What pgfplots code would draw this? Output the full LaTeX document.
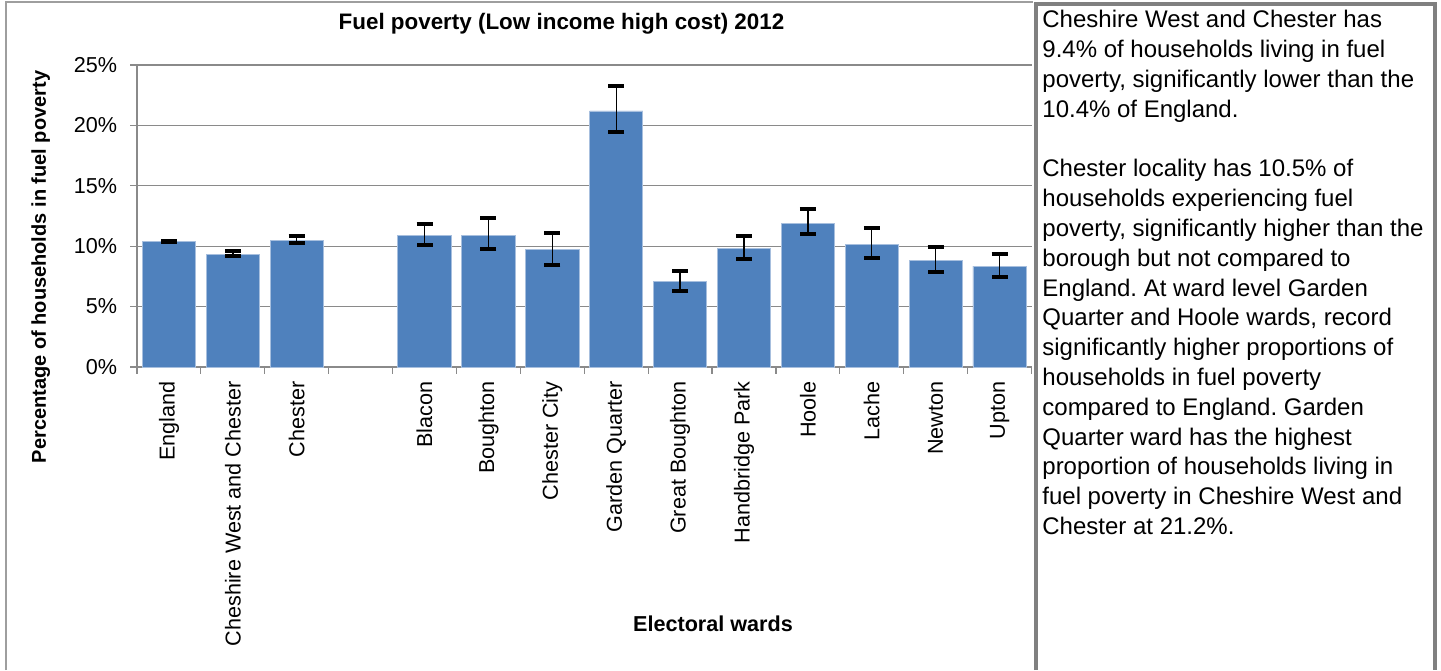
\documentclass[border=0pt]{standalone}
\usepackage{fontspec}
\setmainfont{Liberation Sans}
\usepackage{pgfplots}
\pgfplotsset{compat=1.18}
\usepackage{pgfplotstable}
\frenchspacing
\definecolor{barblue}{HTML}{4F81BD}
\definecolor{baredge}{HTML}{A7BFDE}
\definecolor{gridgrey}{HTML}{8A8A8A}
\definecolor{framegrey}{HTML}{808080}
\definecolor{chartframe}{HTML}{9E9E9E}

\pgfplotstableread{
x y ep em
0 10.40 0.05 0.05
1 9.35 0.25 0.17
2 10.50 0.38 0.27
4 10.90 0.90 0.76
5 10.90 1.40 1.17
6 9.75 1.38 1.27
7 21.20 2.10 1.78
8 7.05 0.93 0.72
9 9.80 1.08 0.90
10 11.90 1.22 0.93
11 10.15 1.32 1.09
12 8.85 1.12 0.95
13 8.35 1.04 0.86
}\fueldata

\begin{document}
\frenchspacing
\begin{tikzpicture}
\path[use as bounding box] (0,0) rectangle (720.5pt,335pt);
% frames
\draw[chartframe, line width=1pt] (2.75pt,0pt) -- (2.75pt,333.75pt) -- (516.5pt,333.75pt);
\draw[framegrey, line width=2pt] (518pt,0pt) -- (518pt,333pt) -- (717.25pt,333pt) -- (717.25pt,0pt);
\begin{axis}[
  at={(68.5pt,151.5pt)}, anchor=south west,
  scale only axis, width=447.25pt, height=151pt,
  xmin=-0.5, xmax=13.5, ymin=0, ymax=25,
  axis x line*=bottom, axis y line*=left,
  axis line style={gridgrey, line width=0.6pt},
  tick align=outside,
  major tick length=3.25pt,
  tick style={gridgrey, line width=0.6pt},
  xtick={-0.5,0.5,...,13.5},
  xticklabels={},
  extra x ticks={0,1,2,4,5,6,7,8,9,10,11,12,13},
  extra x tick labels={England,Cheshire West and Chester,Chester,Blacon,Boughton,Chester City,Garden Quarter,Great Boughton,Handbridge Park,Hoole,Lache,Newton,Upton},
  extra x tick style={major tick length=0pt, tick style={draw=none},
    xticklabel style={yshift=-7pt, rotate=90, anchor=east, inner sep=0pt, font=\fontsize{10.8}{12}\selectfont}},
  ytick={0,5,10,15,20,25},
  yticklabel={\pgfmathprintnumber{\tick}\%},
  yticklabel style={xshift=-6.5pt, anchor=east, inner sep=0pt, font=\fontsize{10.8}{12}\selectfont},
  /pgf/number format/assume math mode=true,
  ymajorgrids,
  grid style={gridgrey, line width=0.6pt},
  clip=false,
]
\addplot[ybar, bar width=0.834, fill=barblue, draw=baredge, line width=0.4pt,
  error bars/.cd, y dir=both, y explicit,
  error bar style={black, line width=0.7pt},
  error mark options={rotate=90, black, line width=2pt, mark size=4pt}]
  table[x=x, y=y, y error plus=ep, y error minus=em] {\fueldata};
\end{axis}
% titles
\node[font=\bfseries\fontsize{11.2}{13}\selectfont, anchor=base] at (280.75pt,320.35pt) {Fuel poverty (Low income high cost) 2012};
\node[font=\bfseries\fontsize{10.8}{13}\selectfont, anchor=base] at (356.5pt,19.5pt) {Electoral wards};
\node[font=\bfseries\fontsize{10}{12}\selectfont, anchor=base, rotate=90] at (23pt,201.5pt) {Percentage of households in fuel poverty};
% text box
\node[anchor=base west, inner sep=0pt] at (521pt,321pt) {\fontsize{12}{14.9}\selectfont\frenchspacing
\begin{tabular}[t]{@{}l@{}}
Cheshire West and Chester has\\
9.4\% of households living in fuel\\
poverty, significantly lower than the\\
10.4\% of England.\\
\\
Chester locality has 10.5\% of\\
households experiencing fuel\\
poverty, significantly higher than the\\
borough but not compared to\\
England. At ward level Garden\\
Quarter and Hoole wards, record\\
significantly higher proportions of\\
households in fuel poverty\\
compared to England. Garden\\
Quarter ward has the highest\\
proportion of households living in\\
fuel poverty in Cheshire West and\\
Chester at 21.2\%.
\end{tabular}};
\end{tikzpicture}
\end{document}
